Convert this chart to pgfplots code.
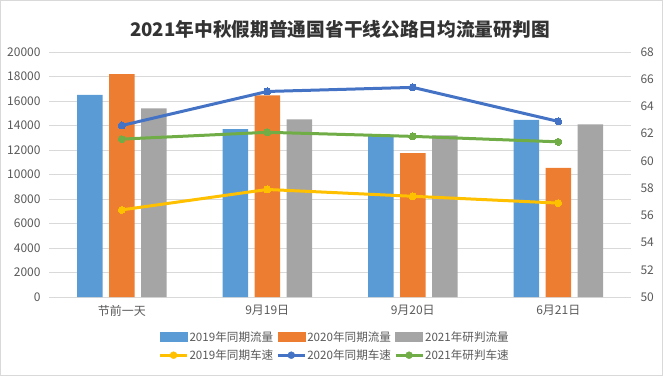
\documentclass[border=0pt]{standalone}
\usepackage{pgfplots}
\pgfplotsset{compat=1.18}
\usepackage{fontspec}
\setmainfont{Noto Sans CJK SC}
\definecolor{barblue}{HTML}{5B9BD5}
\definecolor{barorange}{HTML}{ED7D31}
\definecolor{bargray}{HTML}{A5A5A5}
\definecolor{lyellow}{HTML}{FFC000}
\definecolor{lblue}{HTML}{4472C4}
\definecolor{lgreen}{HTML}{70AD47}
\definecolor{gridc}{HTML}{D9D9D9}
\definecolor{txt}{HTML}{595959}
\begin{document}
\begin{tikzpicture}[x=1bp,y=1bp]
\useasboundingbox (0,0) rectangle (663,376);
\draw[gridc] (0.5,0.5) rectangle (662.5,375.5);
\node[font=\fontsize{18.7bp}{21bp}\selectfont\bfseries, text=black!80] at (340,347) {2021年中秋假期普通国省干线公路日均流量研判图};
\pgfplotsset{
  every axis/.append style={
    at={(49bp,79bp)}, anchor=south west, scale only axis,
    width=582bp, height=245bp,
    xmin=-0.5, xmax=3.5, enlargelimits=false,
    axis line style={draw=none}, major tick length=0pt,
    tick label style={font=\fontsize{12bp}{14bp}\selectfont, text=txt},
    scaled y ticks=false,
    /pgf/number format/assume math mode=true,
    /pgf/number format/1000 sep={},
    /pgf/number format/fixed,
  }
}
\begin{axis}[
  ymin=0, ymax=20000, ytick={0,2000,...,20000},
  ymajorgrids, grid style={gridc, line width=0.75bp},
  xtick={0,1,2,3}, xticklabels={节前一天,9月19日,9月20日,6月21日},
  yticklabel style={xshift=-5bp},
  xticklabel style={yshift=-5bp},
  legend columns=3,
  legend style={at={(0.49,-0.135)}, anchor=north, draw=none, fill=none,
    font=\fontsize{11.6bp}{14bp}\selectfont, text=txt,
    inner sep=0pt, row sep=5bp,
    /tikz/every even column/.append style={column sep=2bp},
    nodes={inner sep=1bp}},
]
\addplot[ybar, bar width=25.5bp, bar shift=-32bp, fill=barblue, draw=none, forget plot] coordinates {(0,16500) (1,13700) (2,13250) (3,14450)};
\addplot[ybar, bar width=25.5bp, bar shift=0bp, fill=barorange, draw=none, forget plot] coordinates {(0,18200) (1,16450) (2,11750) (3,10550)};
\addplot[ybar, bar width=25.5bp, bar shift=32bp, fill=bargray, draw=none, forget plot] coordinates {(0,15400) (1,14500) (2,13200) (3,14100)};
\addlegendimage{legend image code/.code={\fill[barblue] (0bp,-4.5bp) rectangle (27bp,4.5bp);}}
\addlegendentry{2019年同期流量}
\addlegendimage{legend image code/.code={\fill[barorange] (0bp,-4.5bp) rectangle (27bp,4.5bp);}}
\addlegendentry{2020年同期流量}
\addlegendimage{legend image code/.code={\fill[bargray] (0bp,-4.5bp) rectangle (27bp,4.5bp);}}
\addlegendentry{2021年研判流量}
\addlegendimage{legend image code/.code={\draw[lyellow, line width=3bp] (0bp,0bp) -- (27bp,0bp); \fill[lyellow] (13.5bp,0bp) circle (3.5bp);}}
\addlegendentry{2019年同期车速}
\addlegendimage{legend image code/.code={\draw[lblue, line width=3bp] (0bp,0bp) -- (27bp,0bp); \fill[lblue] (13.5bp,0bp) circle (3.5bp);}}
\addlegendentry{2020年同期车速}
\addlegendimage{legend image code/.code={\draw[lgreen, line width=3bp] (0bp,0bp) -- (27bp,0bp); \fill[lgreen] (13.5bp,0bp) circle (3.5bp);}}
\addlegendentry{2021年研判车速}
\end{axis}
\begin{axis}[
  ymin=50, ymax=68, ytick={50,52,...,68},
  axis y line*=right, axis x line=none,
  yticklabel style={xshift=6bp},
]
\addplot[lyellow, line width=3bp, mark=*, mark size=3.5bp, mark options={fill=lyellow, draw=lyellow, line width=0pt}] coordinates {(0,56.4) (1,57.9) (2,57.4) (3,56.9)};
\addplot[lblue, line width=3bp, mark=*, mark size=3.5bp, mark options={fill=lblue, draw=lblue, line width=0pt}] coordinates {(0,62.6) (1,65.1) (2,65.4) (3,62.9)};
\addplot[lgreen, line width=3bp, mark=*, mark size=3.5bp, mark options={fill=lgreen, draw=lgreen, line width=0pt}] coordinates {(0,61.6) (1,62.1) (2,61.8) (3,61.4)};
\end{axis}
\end{tikzpicture}
\end{document}
